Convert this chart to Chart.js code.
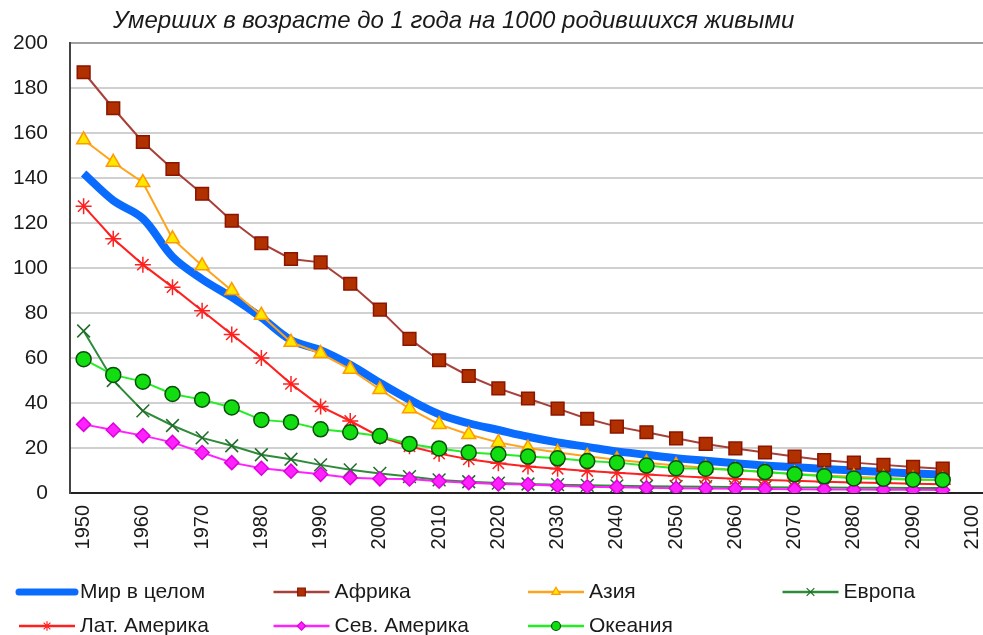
<!DOCTYPE html>
<html>
<head>
<meta charset="utf-8">
<script src="https://cdn.jsdelivr.net/npm/chart.js@4.4.0/dist/chart.umd.min.js"></script>
<style>
  body { margin: 0; background: #fff; }
  #wrap { width: 983px; height: 635px; position: relative; }
</style>
</head>
<body>
<div id="wrap"><canvas id="chart"></canvas></div>
<script>
// data, every 5 years
const years = [1950, 1955, 1960, 1965, 1970, 1975, 1980, 1985, 1990, 1995,
  2000, 2005, 2010, 2015, 2020, 2025, 2030, 2035, 2040, 2045,
  2050, 2055, 2060, 2065, 2070, 2075, 2080, 2085, 2090, 2095];
const tickYears = [1950, 1960, 1970, 1980, 1990, 2000, 2010, 2020, 2030, 2040,
  2050, 2060, 2070, 2080, 2090, 2100];

const world = [142, 130, 122, 105, 95, 87, 78, 68, 63.5, 57, 49, 41.5, 35, 31, 28, 25, 22.5, 20.5, 18.5, 17,
  15.5, 14.3, 13.2, 12.2, 11.5, 10.7, 10, 9.3, 8.7, 8.1];
const africa = [187, 171, 156, 144, 133, 121, 111, 104, 102.5, 93, 81.5, 68.5, 59, 52, 46.5, 42, 37.5, 33, 29.5, 27,
  24.3, 21.8, 19.8, 18, 16.2, 14.6, 13.5, 12.5, 11.6, 10.8];
const asia = [157, 147, 138, 113, 101, 90, 79, 67, 62, 55, 46, 37.5, 30.5, 26, 22.5, 20, 18, 16.3, 14.8, 13.4,
  12.2, 11.2, 10.2, 9.3, 8.5, 7.8, 7.2, 6.7, 6.2, 5.8];
const europe = [72, 50, 36.5, 30, 24.5, 21, 17, 15, 12.5, 10.3, 8.7, 7.3, 5.8, 5, 4.4, 4, 3.7, 3.4, 3.2, 3,
  2.9, 2.8, 2.7, 2.6, 2.5, 2.4, 2.3, 2.3, 2.2, 2.2];
const latam = [127.5, 113, 101.5, 91.5, 81, 70.5, 60, 48.5, 38.5, 32, 25, 20.8, 17.5, 15, 13.2, 11.8, 10.8, 9.8, 9, 8.2,
  7.5, 6.9, 6.3, 5.8, 5.4, 5, 4.7, 4.4, 4.1, 3.9];
const namerica = [30.5, 28, 25.5, 22.5, 18, 13.5, 11, 9.7, 8.3, 6.8, 6.3, 6.2, 5.2, 4.6, 4, 3.8, 3.2, 2.8, 2.6, 2.3,
  2.1, 2, 1.9, 1.8, 1.7, 1.6, 1.5, 1.5, 1.4, 1.3];
const oceania = [59.5, 52.5, 49.5, 44, 41.5, 38, 32.5, 31.5, 28.3, 27, 25.3, 21.8, 19.8, 18, 17.2, 16.2, 15.4, 14.2, 13.5, 12.2,
  11, 10.8, 10.2, 9.3, 8.3, 7.4, 6.5, 6.3, 5.9, 5.8];

const title = 'Умерших в возрасте до 1 года на 1000 родившихся живыми';
const FONT = '"Liberation Sans", Arial, sans-serif';

const toPoints = (vals) => vals.map((v, i) => ({ x: years[i], y: v }));

const series = [
  { label: 'Мир в целом', data: world, color: '#0a6cff', width: 8, style: false, tension: 0.35 },
  { label: 'Африка', data: africa, color: '#a8403a', width: 2, style: 'rect', r: 9, fill: '#b03000', border: '#8a1500' },
  { label: 'Азия', data: asia, color: '#ffa31a', width: 2, style: 'triangle', r: 8, fill: '#ffe800', border: '#ff9900' },
  { label: 'Европа', data: europe, color: '#2e8b3a', width: 2, style: 'crossRot', r: 9, fill: '#1f6b2a', border: '#1f6b2a' },
  { label: 'Лат. Америка', data: latam, color: '#ff2020', width: 2, style: 'star', r: 8, fill: '#ff2020', border: '#ff2020' },
  { label: 'Сев. Америка', data: namerica, color: '#ff22ff', width: 2, style: 'rectRot', r: 7, fill: '#ff22ff', border: '#dd00dd' },
  { label: 'Океания', data: oceania, color: '#22ee22', width: 2, style: 'circle', r: 7.5, fill: '#11dd11', border: '#0b4d0b' },
];

const datasets = series.map((s, i) => ({
  label: s.label,
  data: toPoints(s.data),
  borderColor: s.color,
  borderWidth: s.width,
  tension: s.tension || 0,
  pointStyle: s.style,
  pointRadius: s.style ? s.r : 0,
  pointBackgroundColor: s.fill,
  pointBorderColor: s.border,
  pointBorderWidth: 1.5,
  // excel draws later series on top
  order: series.length - i,
}));

// title + two-row legend drawn straight on the canvas
const extras = {
  id: 'extras',
  afterDraw(chart) {
    const ctx = chart.ctx;
    ctx.save();
    ctx.fillStyle = '#1a1a1a';
    ctx.font = 'italic 24px ' + FONT;
    ctx.textBaseline = 'middle';
    ctx.fillText(title, 113, 21);

    ctx.font = '21px ' + FONT;
    series.forEach((s, i) => {
      const col = i % 4;
      const row = Math.floor(i / 4);
      const x = 19 + col * 254.5;
      const y = 592 + row * 34;
      ctx.strokeStyle = s.color;
      ctx.lineWidth = s.width === 8 ? 7 : 2.5;
      ctx.lineCap = s.width === 8 ? 'round' : 'butt';
      ctx.beginPath();
      ctx.moveTo(x, y);
      ctx.lineTo(x + 56, y);
      ctx.stroke();
      if (s.style && Chart.helpers && Chart.helpers.drawPoint) {
        ctx.fillStyle = s.fill;
        ctx.strokeStyle = s.border;
        ctx.lineWidth = 1.2;
        Chart.helpers.drawPoint(ctx, { pointStyle: s.style, radius: s.r * 0.6, rotation: 0, borderWidth: 1.2 }, x + 28, y);
      }
      ctx.fillStyle = '#1a1a1a';
      ctx.fillText(s.label, x + 61, y);
    });
    ctx.restore();
  },
};

new Chart(document.getElementById('chart'), {
  type: 'line',
  data: { datasets },
  plugins: [extras],
  options: {
    responsive: true,
    maintainAspectRatio: false,
    animation: false,
    layout: { autoPadding: false, padding: { top: 43, bottom: 75, left: 0, right: 0 } },
    plugins: {
      legend: { display: false },
      tooltip: { enabled: false },
    },
    scales: {
      x: {
        type: 'linear',
        min: 1947.7,
        max: 2101.8,
        afterBuildTicks: (scale) => {
          scale.ticks = tickYears.map((v) => ({ value: v }));
        },
        afterFit: (scale) => {
          scale.height = 67;
          // plot runs to the right edge like the original
          scale.paddingLeft = 0;
          scale.paddingRight = 0;
        },
        ticks: {
          callback: (v) => String(v),
          autoSkip: false,
          minRotation: 90,
          maxRotation: 90,
          padding: 12,
          color: '#1a1a1a',
          font: { family: FONT, size: 20 },
        },
        grid: { drawOnChartArea: false, drawTicks: false },
        border: { color: '#222', width: 2 },
      },
      y: {
        min: 0,
        max: 200,
        afterFit: (scale) => { scale.width = 70; },
        ticks: {
          stepSize: 20,
          padding: 22,
          color: '#1a1a1a',
          font: { family: FONT, size: 21 },
        },
        grid: {
          drawTicks: false,
          lineWidth: 2,
          color: (c) => (c.tick && c.tick.value === 200 ? '#a0a0a0' : '#d0d0d0'),
        },
        border: { color: '#444', width: 2 },
      },
    },
  },
});
</script>
</body>
</html>
